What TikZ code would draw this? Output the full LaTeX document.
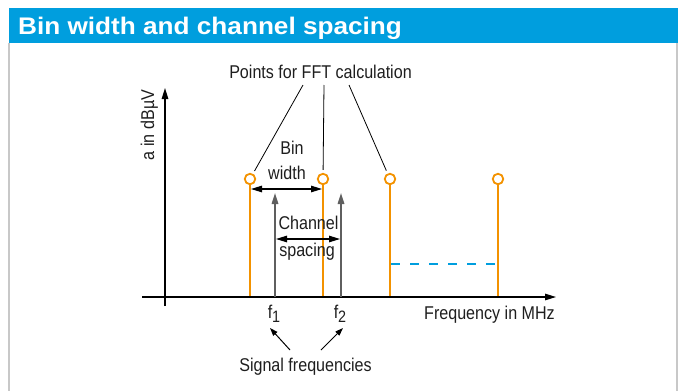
\documentclass[tikz,border=0pt]{standalone}
\usepackage{fontspec}
\setmainfont{Liberation Sans}[FakeStretch=0.87]
\newfontfamily\titlefont{Liberation Sans}[FakeStretch=1.09]
\usetikzlibrary{positioning}
\usetikzlibrary{arrows.meta}
\definecolor{rsblue}{RGB}{0,158,222}
\definecolor{rsorange}{RGB}{243,146,0}
\definecolor{siggray}{RGB}{95,95,95}
\definecolor{framegray}{RGB}{200,200,200}
\definecolor{txtgray}{RGB}{30,30,30}
\newcommand{\fsub}[1]{f\raisebox{-4.5pt}{\fontsize{16.5}{16.5}\selectfont #1}}

\begin{document}
\begin{tikzpicture}[x=1pt,y=-1pt,>={Triangle[length=11pt,width=6.5pt]},
        lbl/.style={font=\fontsize{18.5}{20}\selectfont,text=txtgray,inner sep=0pt,anchor=base},
        fftpoint/.style={circle,draw=rsorange,fill=white,line width=1.8pt,minimum size=10.5pt,inner sep=0pt},
        stem/.style={draw=rsorange,line width=2pt},
        signal/.style={->,draw=siggray,line width=1.6pt},
        spacing/.style={<->,line width=1.2pt},
        pointer/.style={draw=black,line width=0.8pt,shorten >=3pt},
        smallarrow/.style={-{Triangle[length=8pt,width=5.5pt]},line width=1pt},
        axis/.style={->,line width=1.3pt}]

\useasboundingbox (0,0) rectangle (678,391);

\fill[rsblue] (9,8) rectangle (678,43);
\node[anchor=base west,inner sep=0pt,text=white,font=\titlefont\bfseries\fontsize{24}{26}\selectfont] (title) at (18,34) {Bin width and channel spacing};
\coordinate (fl1) at (9,43);
\coordinate (fl2) at (9,391);
\coordinate (fr1) at (677,43);
\coordinate (fr2) at (677,391);
\draw[framegray,line width=1.2pt] (fl1) -- (fl2) (fr1) -- (fr2);

\foreach \x [count=\n] in {250,323,390,498} {
  \coordinate (b\n) at (\x,297);
  \draw[stem] (\x,183) -- (b\n);
}

\coordinate (d1) at (391,264);
\coordinate (d2) at (497,264);
\draw[rsblue,line width=1.8pt,dash pattern=on 9pt off 10pt] (d1) -- (d2);

\coordinate (ybot) at (165,306);
\coordinate (ytop) at (165,88);
\coordinate (xleft) at (142,297);
\coordinate (xright) at (556,297);
\draw[axis] (ybot) -- (ytop);
\draw[axis] (xleft) -- (xright);

\foreach \x [count=\n] in {250,323,390,498} {
  \node[fftpoint] (p\n) at (\x,179) {};
}

\coordinate (s1) at (275,297);
\coordinate (t1) at (275,193);
\coordinate (s2) at (341,297);
\coordinate (t2) at (341,193);
\draw[signal] (s1) -- (t1);
\draw[signal] (s2) -- (t2);

\coordinate (bw1) at (251,189);
\coordinate (bw2) at (322,189);
\draw[spacing] (bw1) -- (bw2);
\coordinate (cs1) at (276,239);
\coordinate (cs2) at (340,239);
\draw[spacing] (cs1) -- (cs2);

\node[lbl] (points) at (320.5,78) {Points for FFT calculation};
\coordinate (c1) at (303,85);
\coordinate (c2) at (324,85);
\coordinate (c3) at (349,85);
\draw[pointer] (c1) -- (p1);
\draw[pointer] (c2) -- (p2);
\draw[pointer] (c3) -- (p3);

\node[lbl] (bin) at (292,154) {Bin};
\node[lbl] (width) at (287,179) {width};
\node[lbl] (channel) at (308.5,229) {Channel};
\node[lbl] (spacingtxt) at (307,256) {spacing};

\node[lbl] (f1) at (274,318) {\fsub{1}};
\node[lbl] (f2) at (340,318) {\fsub{2}};
\node[lbl] (freq) at (489.5,319) {Frequency in MHz};
\node[lbl,rotate=90] (amp) at (154,125) {a in dBµV};
\node[lbl] (signals) at (305.5,371) {Signal frequencies};

\coordinate (a1) at (290,350);
\coordinate (a2) at (321,350);
\coordinate (h1) at (270,328);
\coordinate (h2) at (343,328);
\draw[smallarrow] (a1) -- (h1);
\draw[smallarrow] (a2) -- (h2);

\end{tikzpicture}
\end{document}
